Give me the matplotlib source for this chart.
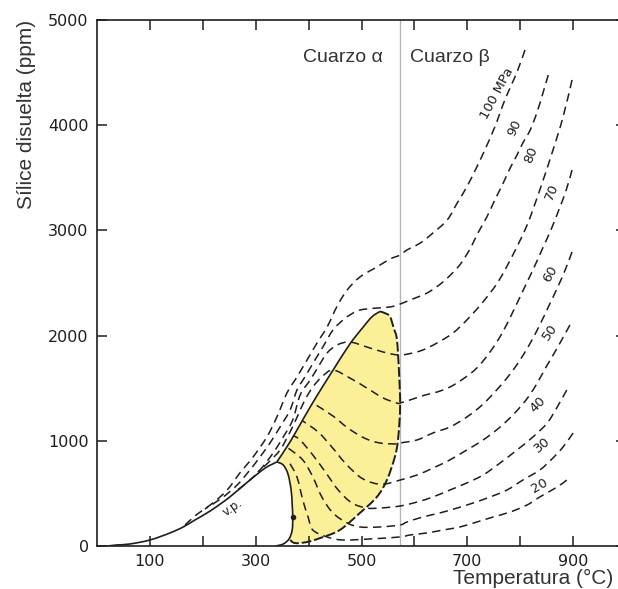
import numpy as np
import matplotlib.pyplot as plt
from matplotlib.path import Path
from matplotlib.patches import PathPatch

# Curva v.p. (presion de vapor) y lazo blanco
vp_t = [21, 38, 62, 100, 138, 163, 185, 214, 251, 289, 318, 340]
vp_s = [0, 10, 19, 57, 124, 181, 247, 333, 466, 627, 741, 799]
bulb_t = [340, 352, 361, 367, 369, 370, 369, 363, 352, 338]
bulb_s = [799, 770, 684, 532, 390, 276, 152, 67, 19, 0]

# Zona amarilla (solubilidad retrograda)
yel_left_t = [340, 365, 389, 416, 446, 478, 503, 520, 535]
yel_left_s = [799, 990, 1200, 1430, 1670, 1920, 2080, 2180, 2230]
yel_right_t = [535, 546, 554, 561, 567, 571, 573, 569, 563, 548, 529, 497, 459, 422, 397, 374, 363]
yel_right_s = [2230, 2210, 2180, 2070, 1960, 1645, 1320, 1010, 846, 627, 466, 314, 152, 76, 38, 28, 67]

# Isobaras (MPa)
p100_t = [809, 794, 771, 752, 733, 718, 699, 681, 662, 635, 611, 586, 573, 554, 529, 497, 473, 454, 435, 416,
          397, 378, 359, 340, 321, 295, 270, 246, 219, 185, 163]
p100_s = [4715, 4506, 4240, 3983, 3764, 3603, 3413, 3261, 3099, 2975, 2880, 2814, 2766, 2728, 2652, 2557, 2434,
          2281, 2082, 1930, 1768, 1607, 1454, 1226, 1036, 846, 694, 532, 409, 285, 181]
p90_t = [853, 843, 832, 819, 805, 794, 781, 768, 752, 737, 720, 709, 696, 681, 654, 624, 592, 573, 554, 529, 497,
         478, 465, 446, 427, 412, 393, 378, 365, 346, 327, 308, 289, 265, 236, 204]
p90_s = [4477, 4306, 4126, 3955, 3831, 3717, 3593, 3451, 3289, 3128, 2975, 2861, 2747, 2643, 2510, 2405, 2339,
         2300, 2272, 2262, 2243, 2196, 2148, 2053, 1892, 1768, 1607, 1483, 1293, 1131, 979, 846, 722, 580, 456, 352]
p80_t = [898, 881, 862, 837, 813, 786, 758, 728, 699, 673, 643, 611, 578, 567, 541, 510,
         478, 454, 435, 418, 403, 384, 370, 352, 333, 308, 285, 265]
p80_s = [4430, 4078, 3764, 3384, 3051, 2766, 2510, 2310, 2148, 2025, 1930, 1854, 1816, 1816, 1844, 1892,
         1939, 1911, 1835, 1702, 1578, 1435, 1198, 1036, 884, 722, 608, 532]
p70_t = [898, 887, 873, 858, 841, 824, 805, 786, 766, 743, 718, 692, 667, 643, 620, 597, 573, 567, 541, 510, 478,
         446, 425, 408, 393, 380, 365, 346, 323, 304]
p70_s = [3574, 3384, 3194, 3004, 2814, 2624, 2424, 2224, 2025, 1844, 1692, 1588, 1511, 1464, 1435, 1397, 1359,
         1359, 1407, 1502, 1597, 1673, 1607, 1511, 1388, 1245, 1084, 913, 789, 703]
p60_t = [898, 885, 871, 854, 836, 817, 796, 775, 752, 728, 699, 667, 635, 605, 573, 567, 535, 505, 474, 446, 408]
p60_s = [2795, 2624, 2462, 2281, 2091, 1911, 1740, 1597, 1464, 1340, 1226, 1131, 1074, 1008, 979, 970, 979, 1027,
         1122, 1236, 1359]
p50_t = [894, 870, 849, 830, 811, 788, 762, 730, 699, 667, 635, 605, 573, 544, 522, 497, 469, 444, 418, 389]
p50_s = [2101, 1882, 1702, 1530, 1388, 1255, 1131, 1008, 913, 818, 741, 675, 627, 589, 599, 656, 789, 941, 1084, 1188]
p40_t = [888, 870, 851, 824, 794, 762, 730, 699, 667, 635, 605, 573, 535, 510, 482, 456, 433, 408, 384, 372]
p40_s = [1483, 1321, 1169, 1036, 913, 789, 675, 599, 532, 466, 418, 380, 361, 361, 409, 532, 694, 865, 1008, 1046]
p30_t = [900, 881, 860, 837, 805, 775, 743, 711, 681, 648, 616, 586, 573, 535, 497, 473, 446, 425, 408, 389, 361]
p30_s = [1074, 941, 827, 722, 627, 532, 466, 409, 361, 314, 276, 228, 200, 181, 181, 219, 314, 466, 656, 818, 932]
p20_t = [888, 870, 837, 813, 781, 749, 718, 686, 654, 624, 592, 573, 516, 465, 435, 408, 399, 389, 378, 363]
p20_s = [627, 561, 466, 390, 323, 276, 228, 181, 152, 124, 105, 86, 67, 57, 86, 152, 276, 437, 656, 798]

isobaras = [(p100_t, p100_s), (p90_t, p90_s), (p80_t, p80_s), (p70_t, p70_s), (p60_t, p60_s),
            (p50_t, p50_s), (p40_t, p40_s), (p30_t, p30_s), (p20_t, p20_s)]

# etiquetas: texto, T, S, rotacion
etiquetas = [('100 MPa', 757, 4300, 62), ('90', 789, 3975, 65), ('80', 821, 3720, 68), ('70', 859, 3365, 68),
             ('60', 857, 2590, 60), ('50', 857, 2030, 55), ('40', 834, 1345, 45), ('30', 842, 965, 40),
             ('20', 836, 575, 30)]

t_transicion = 573

ink = '#1e1e1e'


def curva(t, s):
    # camino suave (Catmull-Rom -> Bezier) que pasa por los puntos leidos
    p = np.column_stack([t, s]).astype(float)
    ext = np.vstack([p[0], p, p[-1]])
    verts = [p[0]]
    codes = [Path.MOVETO]
    for i in range(1, len(ext) - 2):
        c1 = ext[i] + (ext[i + 1] - ext[i - 1]) / 6
        c2 = ext[i + 1] - (ext[i + 2] - ext[i]) / 6
        verts += [c1, c2, ext[i + 1]]
        codes += [Path.CURVE4] * 3
    return verts, codes


def dibujar(ax, t, s, **kw):
    v, c = curva(t, s)
    ax.add_patch(PathPatch(Path(v, c), fill=False, capstyle='butt', **kw))


fig = plt.figure(figsize=(6.18, 5.89), dpi=100)
ax = fig.add_axes([97 / 618, 43 / 589, 529 / 618, 526 / 589])
ax.set_xlim(0, 1000)
ax.set_ylim(0, 5000)

# relleno amarillo
v1, c1 = curva(yel_left_t, yel_left_s)
v2, c2 = curva(yel_right_t, yel_right_s)
v3, c3 = curva(bulb_t[6:0:-1], bulb_s[6:0:-1])
verts = v1 + v2[1:] + v3[1:] + [v1[0]]
codes = c1 + c2[1:] + c3[1:] + [Path.CLOSEPOLY]
ax.add_patch(PathPatch(Path(verts, codes), facecolor='#fbef98', lw=0, zorder=1))

ax.axvline(t_transicion, color='#b5b5b5', lw=1.0, zorder=1.5)

dibujar(ax, vp_t, vp_s, edgecolor=ink, lw=1.2, zorder=3)
dibujar(ax, bulb_t, bulb_s, edgecolor=ink, lw=1.2, zorder=3)
dibujar(ax, yel_left_t, yel_left_s, edgecolor=ink, lw=1.2, zorder=3)
dibujar(ax, yel_right_t, yel_right_s, edgecolor=ink, lw=1.4, ls=(0, (5, 1.5)), zorder=3)
ax.plot([370], [276], 'o', color=ink, ms=3, zorder=4)

for t, s in isobaras:
    dibujar(ax, t, s, edgecolor=ink, lw=1.1, ls=(0, (5.5, 3.5)), zorder=2)

for txt, t, s, rot in etiquetas:
    ax.text(t, s, txt, rotation=rot, ha='center', va='center', fontsize=9.5, color=ink,
            rotation_mode='anchor')

ax.text(257, 361, 'v.p.', rotation=35, ha='center', va='center', fontsize=8.5, color=ink)

ax.text(389, 4640, 'Cuarzo α', ha='left', va='center', fontsize=14, family='Liberation Sans', color='#333333')
ax.text(592, 4640, 'Cuarzo β', ha='left', va='center', fontsize=14, family='Liberation Sans', color='#333333')

ax.set_xticks([100, 300, 500, 700, 900])
ax.set_xticks([200, 400, 600, 800], minor=True)
ax.set_yticks([0, 1000, 2000, 3000, 4000, 5000])
ax.tick_params(which='both', direction='in', length=7, width=1.1, top=True, right=True,
               labelsize=11.5, pad=6, color=ink, labelcolor=ink)
for sp in ax.spines.values():
    sp.set_linewidth(1.2)
    sp.set_color(ink)

ax.set_ylabel('Sílice disuelta (ppm)', fontsize=15, family='Liberation Sans', color='#333333')
ax.yaxis.set_label_coords(-0.115, 0.82)
ax.set_xlabel('Temperatura (°C)', fontsize=15, family='Liberation Sans', color='#333333', ha='right')
ax.xaxis.set_label_coords(0.975, -0.044)

fig.savefig('out.png', dpi=100)
